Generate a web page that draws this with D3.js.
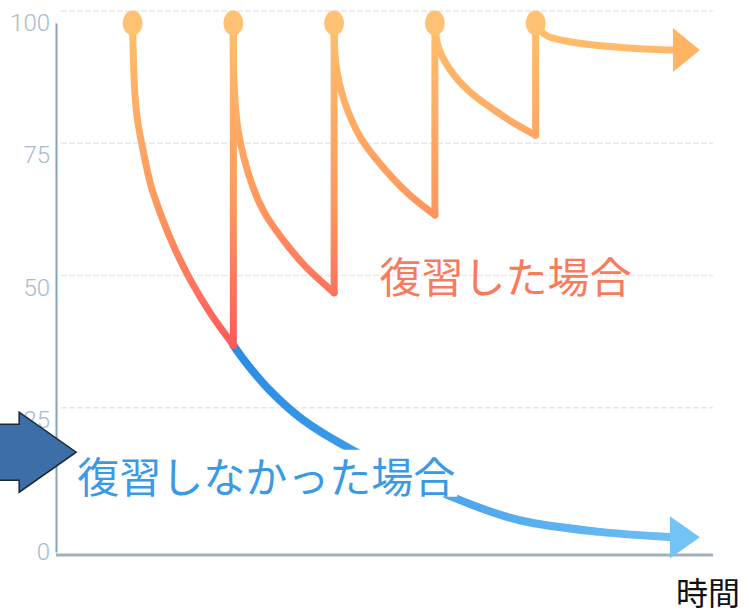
<!DOCTYPE html>
<html>
<head>
<meta charset="utf-8">
<script src="https://cdn.jsdelivr.net/npm/d3@7"></script>
<style>
  body { margin: 0; background: #fff; }
  svg { display: block; }
</style>
</head>
<body>
<svg id="chart" width="749" height="615"></svg>
<script>
// forgetting curve: [time, retention %]
const yTicks = [0, 25, 50, 75, 100];
const gridValues = [25, 50, 75, 100];
const reviewTimes = [0, 1, 2, 3, 4];

const reviewed1 = [[0, 100], [0.02, 87.5], [0.05, 81.5], [0.11, 75.4], [0.18, 69.4], [0.29, 63.3], [0.42, 57.3], [0.58, 51.2], [0.77, 45.2], [1, 39.1]];
const reviewed2 = [[1, 100], [1.005, 89.5], [1.05, 79.4], [1.19, 69.2], [1.31, 64.1], [1.49, 59.1], [1.71, 54.1], [2, 49]];
const reviewed3 = [[2, 100], [2.017, 92.4], [2.10, 85.3], [2.27, 78.1], [2.57, 70.9], [2.76, 67.3], [3, 63.7]];
const reviewed4 = [[3, 100], [3.034, 95.5], [3.146, 91.3], [3.34, 87.1], [3.63, 83], [3.8, 80.9], [4, 78.8]];
const reviewed5 = [[4, 100], [4.1, 97.7], [4.3, 96.6], [4.6, 95.8], [5.0, 95.2], [5.36, 94.9]];
const notReviewed = [[1, 39.1], [1.13, 35.7], [1.36, 30.6], [1.69, 25], [2.18, 19.3], [3.25, 9.8], [3.84, 6], [4.64, 3.8], [5.36, 2.8]];
const arrowTipTime = 5.63;

const reviewedLabel = ["復習した場合", 2.45, 52.4];
const notReviewedLabel = ["復習しなかった場合", -0.55, 14.7];
const xTitle = "時間";

const svg = d3.select("#chart");
const jpFont = "'Noto Sans CJK JP', 'Noto Sans', sans-serif";

const x = d3.scaleLinear().domain([-0.75, 5.75]).range([57, 712]);
const y = d3.scaleLinear().domain([0, 100]).range([552, 23]);
const gridShift = -12;

// gradients
const defs = svg.append("defs");
const og = defs.append("linearGradient")
    .attr("id", "orangeGrad")
    .attr("gradientUnits", "userSpaceOnUse")
    .attr("x1", 0).attr("x2", 0)
    .attr("y1", y(100)).attr("y2", y(39));
og.append("stop").attr("offset", "0%").attr("stop-color", "#ffbf6c");
og.append("stop").attr("offset", "55%").attr("stop-color", "#ff9a5e");
og.append("stop").attr("offset", "100%").attr("stop-color", "#ff5a5c");

const bg = defs.append("linearGradient")
    .attr("id", "blueGrad")
    .attr("gradientUnits", "userSpaceOnUse")
    .attr("x1", x(1)).attr("x2", x(arrowTipTime))
    .attr("y1", 0).attr("y2", 0);
bg.append("stop").attr("offset", "0%").attr("stop-color", "#2a8de3");
bg.append("stop").attr("offset", "100%").attr("stop-color", "#72c2f5");

// grid
svg.append("g")
    .selectAll("line")
    .data(gridValues)
    .join("line")
    .attr("x1", x(-0.75) + 4)
    .attr("x2", 713)
    .attr("y1", d => y(d) + gridShift)
    .attr("y2", d => y(d) + gridShift)
    .attr("stroke", "#e8e8e8")
    .attr("stroke-width", 1.5)
    .attr("stroke-dasharray", "6,2");

// y axis
const yAxis = svg.append("g")
    .attr("transform", `translate(56,0)`)
    .call(d3.axisLeft(y).tickValues(yTicks).tickSize(0).tickPadding(6));
yAxis.select(".domain")
    .attr("stroke", "#86a2b6")
    .attr("stroke-width", 2);
yAxis.selectAll("text")
    .attr("fill", "#a6bccd")
    .attr("font-family", "Roboto, 'Open Sans', sans-serif")
    .attr("font-weight", 300)
    .attr("font-size", 24);

// x axis line
svg.append("line")
    .attr("x1", 56)
    .attr("x2", 713)
    .attr("y1", y(0) + 3)
    .attr("y2", y(0) + 3)
    .attr("stroke", "#a3b0ba")
    .attr("stroke-width", 3);

const line = d3.line()
    .x(d => x(d[0]))
    .y(d => y(d[1]))
    .curve(d3.curveCatmullRom.alpha(0.5));

function arrowHead(t, v, len, half, color) {
    const tx = x(t), ty = y(v);
    svg.append("path")
        .attr("d", `M${tx - len},${ty - half}L${tx},${ty}L${tx - len},${ty + half}Z`)
        .attr("fill", color);
}

// not reviewed
svg.append("path")
    .attr("d", line(notReviewed))
    .attr("fill", "none")
    .attr("stroke", "url(#blueGrad)")
    .attr("stroke-width", 8)
    .attr("stroke-linecap", "round");
arrowHead(arrowTipTime, notReviewed[notReviewed.length - 1][1], 30, 21, "#74c3f5");

// reviewed
const decays = [reviewed1, reviewed2, reviewed3, reviewed4, reviewed5];
const orange = svg.append("g")
    .attr("fill", "none")
    .attr("stroke", "url(#orangeGrad)")
    .attr("stroke-width", 7)
    .attr("stroke-linecap", "round")
    .attr("stroke-linejoin", "round");

orange.selectAll("path.decay")
    .data(decays)
    .join("path")
    .attr("class", "decay")
    .attr("d", d => line(d));

orange.selectAll("line.review")
    .data(decays.slice(0, 4))
    .join("line")
    .attr("class", "review")
    .attr("x1", d => x(d[d.length - 1][0]))
    .attr("x2", d => x(d[d.length - 1][0]))
    .attr("y1", d => y(d[d.length - 1][1]))
    .attr("y2", y(100));

arrowHead(arrowTipTime, reviewed5[reviewed5.length - 1][1], 27, 22, "#ffb462");

svg.append("g")
    .selectAll("ellipse")
    .data(reviewTimes)
    .join("ellipse")
    .attr("cx", d => x(d))
    .attr("cy", y(100))
    .attr("rx", 10)
    .attr("ry", 12.5)
    .attr("fill", "#ffc172");

// labels
svg.append("text")
    .attr("x", x(reviewedLabel[1]))
    .attr("y", y(reviewedLabel[2]))
    .attr("dominant-baseline", "central")
    .attr("font-family", jpFont)
    .attr("font-size", 42)
    .attr("fill", "#fa7b5c")
    .text(reviewedLabel[0]);

// blue label sits on a white patch, so the curve vanishes behind it
const blueBox = svg.append("rect").attr("fill", "#fff");
const blueText = svg.append("text")
    .attr("x", x(notReviewedLabel[1]))
    .attr("y", y(notReviewedLabel[2]))
    .attr("dominant-baseline", "central")
    .attr("font-family", jpFont)
    .attr("font-size", 42)
    .attr("fill", "#3a9ae6")
    .text(notReviewedLabel[0]);
const bb = blueText.node().getBBox();
blueBox
    .attr("x", bb.x)
    .attr("y", bb.y + 6)
    .attr("width", bb.width + 2)
    .attr("height", bb.height - 14);

svg.append("text")
    .attr("x", 740)
    .attr("y", 591)
    .attr("text-anchor", "end")
    .attr("dominant-baseline", "central")
    .attr("font-family", jpFont)
    .attr("font-size", 32)
    .attr("fill", "#111")
    .text(xTitle);

// pointer arrow at the left edge, aimed at the blue label
const tipX = x(notReviewedLabel[1]) - 1;
const tipY = y(notReviewedLabel[2]) - 22;
const headLen = 57, headHalf = 40, shaftHalf = 28;
svg.append("path")
    .attr("d", `M${tipX - headLen - 30},${tipY - shaftHalf}H${tipX - headLen}V${tipY - headHalf}L${tipX},${tipY}L${tipX - headLen},${tipY + headHalf}V${tipY + shaftHalf}H${tipX - headLen - 30}Z`)
    .attr("fill", "#3d6ea7")
    .attr("stroke", "#1c2836")
    .attr("stroke-width", 1.5);
</script>
</body>
</html>
